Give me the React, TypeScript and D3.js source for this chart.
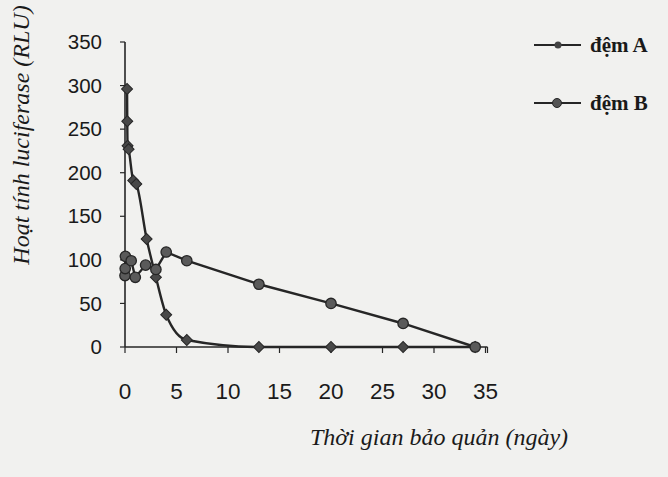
import React from "react";
import * as d3 from "d3";

const daysA = [0.2, 0.22, 0.25, 0.35, 0.8, 1.1, 2.1, 3.0, 4.0, 6.0, 13, 20, 27, 34];
const rluA = [296, 259, 231, 227, 191, 187, 124, 80, 37, 8, 0, 0, 0, 0];
const daysB = [0, 0.02, 0.04, 0.6, 1.0, 2.0, 3.0, 4.0, 6.0, 13, 20, 27, 34];
const rluB = [82, 90, 104, 99, 80, 94, 89, 109, 99, 72, 50, 27, 0];
const xTicks = [0, 5, 10, 15, 20, 25, 30, 35];
const yTicks = [0, 50, 100, 150, 200, 250, 300, 350];
const seriesNames = ["đệm A", "đệm B"];
const yTitle = "Hoạt tính luciferase (RLU)";
const xTitle = "Thời gian bảo quản (ngày)";

export default function App() {
  const W = 668, H = 477;
  const x = d3.scaleLinear().domain([0, 35]).range([125, 485.5]);
  const y = d3.scaleLinear().domain([0, 350]).range([347, 42]);
  const ink = "#262626";

  const ptsA = daysA.map((d, i) => [x(d), y(rluA[i])] as [number, number]);
  const ptsB = daysB.map((d, i) => [x(d), y(rluB[i])] as [number, number]);
  const lineA = d3.line().curve(d3.curveMonotoneX)(ptsA) || "";
  const lineB = d3.line()(ptsB) || "";
  const diamond = d3.symbol().type(d3.symbolSquare).size(60)() || "";

  const axisFont = "'Liberation Sans', Arial, sans-serif";
  const serif = "'Liberation Serif', 'Times New Roman', serif";

  return (
    <svg width={W} height={H} style={{ position: "absolute", left: 0, top: 0 }}>
      <rect width={W} height={H} fill="#f1f1ef" />
      {/* axes */}
      <line x1={x(0)} x2={x(0)} y1={y(0)} y2={y(350)} stroke={ink} strokeWidth={1.6} />
      <line x1={x(0)} x2={x(35) + 2} y1={y(0)} y2={y(0)} stroke={ink} strokeWidth={1.6} />
      {yTicks.map((t) => (
        <g key={"y" + t}>
          <line x1={x(0) - 5} x2={x(0)} y1={y(t)} y2={y(t)} stroke={ink} strokeWidth={1.2} />
          <text x={102} y={y(t)} dy="0.35em" textAnchor="end" fontFamily={axisFont} fontSize={20.5} fill="#1a1a1a">{t}</text>
        </g>
      ))}
      {xTicks.map((t) => (
        <g key={"x" + t}>
          <line x1={x(t)} x2={x(t)} y1={y(0)} y2={y(0) + 6} stroke={ink} strokeWidth={1.2} />
          <text x={x(t)} y={391} dy="0.35em" textAnchor="middle" fontFamily={axisFont} fontSize={22.5} fill="#1a1a1a">{t}</text>
        </g>
      ))}
      <line x1={x(35) + 2} x2={x(35) + 2} y1={y(0)} y2={y(0) + 6} stroke={ink} strokeWidth={1.2} />
      {/* series */}
      <path d={lineA} fill="none" stroke={ink} strokeWidth={2.4} />
      <path d={lineB} fill="none" stroke={ink} strokeWidth={2.4} />
      {ptsA.map((p, i) => (
        <path key={"a" + i} d={diamond} transform={`translate(${p[0]},${p[1]}) rotate(45)`} fill="#484848" stroke={ink} strokeWidth={1} />
      ))}
      {ptsB.map((p, i) => (
        <circle key={"b" + i} cx={p[0]} cy={p[1]} r={5.2} fill="#5a5a5a" stroke={ink} strokeWidth={1.3} />
      ))}
      {/* titles */}
      <text transform="translate(29,135) rotate(-90)" textAnchor="middle" fontFamily={serif} fontStyle="italic" fontSize={24} fill="#1a1a1a">{yTitle}</text>
      <text x={439} y={445} textAnchor="middle" fontFamily={serif} fontStyle="italic" fontSize={24} fill="#1a1a1a">{xTitle}</text>
      {/* legend */}
      {seriesNames.map((n, i) => {
        const ly = 45 + i * 58;
        return (
          <g key={n}>
            <line x1={534} x2={581} y1={ly} y2={ly} stroke={ink} strokeWidth={2.2} />
            {i === 0 ? (
              <circle cx={558} cy={ly} r={3.5} fill="#444" />
            ) : (
              <circle cx={557} cy={ly} r={4.5} fill="#555" stroke={ink} strokeWidth={1} />
            )}
            <text x={590} y={ly} dy="0.35em" fontFamily={serif} fontWeight="bold" fontSize={21} fill="#1a1a1a">{n}</text>
          </g>
        );
      })}
    </svg>
  );
}
